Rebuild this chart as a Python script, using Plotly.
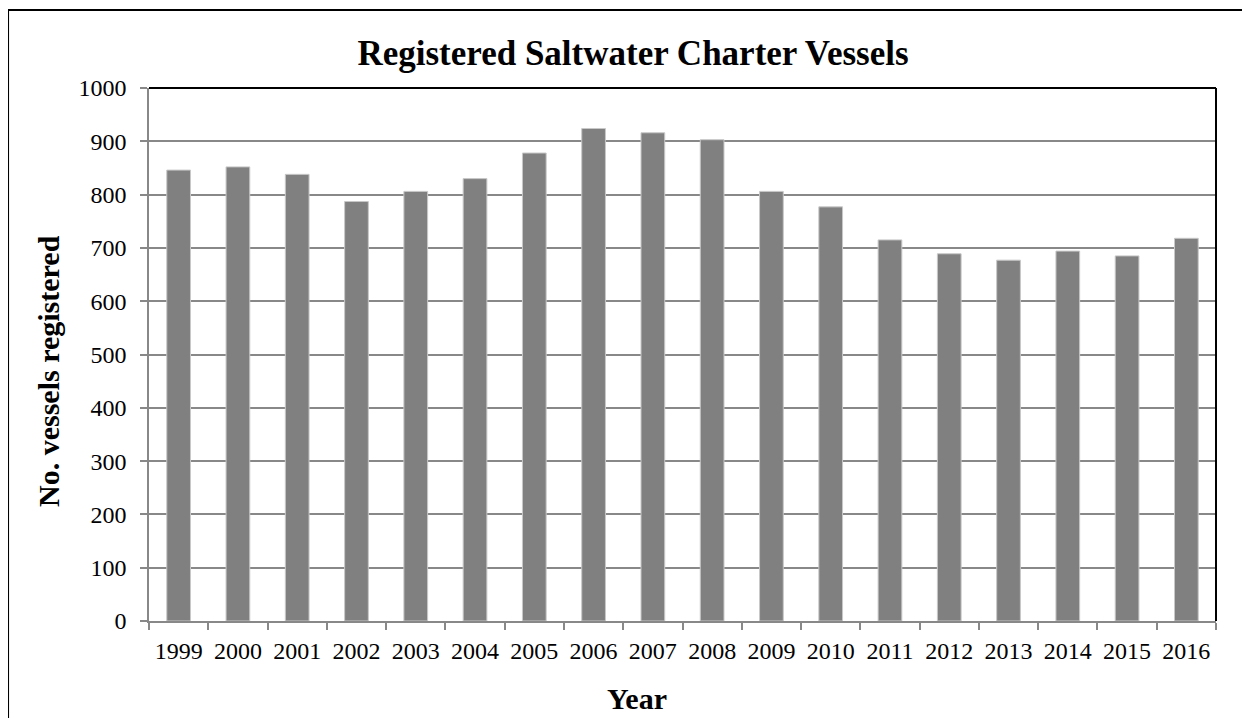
import plotly.graph_objects as go

years = ["1999", "2000", "2001", "2002", "2003", "2004", "2005", "2006", "2007",
         "2008", "2009", "2010", "2011", "2012", "2013", "2014", "2015", "2016"]
vessels = [846, 852, 838, 787, 806, 830, 878, 924, 916,
           903, 806, 777, 715, 689, 677, 694, 685, 718]
y_ticks = [0, 100, 200, 300, 400, 500, 600, 700, 800, 900, 1000]

FONT = "Liberation Serif, Times New Roman, serif"

fig = go.Figure()
fig.add_trace(go.Bar(
    x=years, y=vessels,
    marker=dict(color="#808080", line=dict(color="#c8c8c8", width=1)),
    hoverinfo="x+y",
))

fig.update_layout(
    width=1250, height=718,
    margin=dict(l=141, r=42, t=80, b=105),
    paper_bgcolor="white", plot_bgcolor="white",
    bargap=0.6,
    showlegend=False,
    font=dict(family=FONT, color="black", size=24),
    title=dict(text="<b>Registered Saltwater Charter Vessels</b>",
               x=0.5, xref="container", xanchor="center",
               y=1 - 45 / 718, yref="container", yanchor="middle",
               font=dict(family=FONT, size=35, color="black")),
    xaxis=dict(
        type="category",
        showline=True, linecolor="#888888", linewidth=1.5,
        ticks="outside", tickson="boundaries", ticklen=7,
        tickcolor="#888888", tickwidth=1.5,
        showgrid=False,
        ticklabelstandoff=7,
        tickfont=dict(family=FONT, size=24, color="black"),
    ),
    yaxis=dict(
        range=[0, 1000], tickvals=y_ticks,
        showline=True, linecolor="#888888", linewidth=1.5,
        ticks="outside", ticklen=7, tickcolor="#888888", tickwidth=1.5,
        showgrid=True, gridcolor="#888888", gridwidth=1.5,
        zeroline=False,
        ticklabelstandoff=9,
        tickfont=dict(family=FONT, size=24, color="black"),
    ),
)

# axis titles placed as in the reference
fig.add_annotation(text="<b>Year</b>", xref="paper", yref="paper",
                   x=0.4574, y=-0.1445, xanchor="center", yanchor="middle",
                   showarrow=False, font=dict(family=FONT, size=30, color="black"))
fig.add_annotation(text="<b>No. vessels registered</b>", xref="paper", yref="paper",
                   x=-0.0947, y=0.469, xanchor="center", yanchor="middle",
                   textangle=-90, showarrow=False,
                   font=dict(family=FONT, size=30, color="black"))

# plot area top and right borders
fig.add_shape(type="line", xref="paper", yref="paper", x0=0, x1=1, y0=1, y1=1,
              line=dict(color="black", width=2))
fig.add_shape(type="line", xref="paper", yref="paper", x0=1, x1=1, y0=0, y1=1,
              line=dict(color="black", width=2))
# outer chart border
fig.add_shape(type="rect", xref="paper", yref="paper",
              x0=-0.1321, x1=1.2, y0=-0.3, y1=1.1463,
              line=dict(color="black", width=2), layer="above")

fig.write_html("out.html")
